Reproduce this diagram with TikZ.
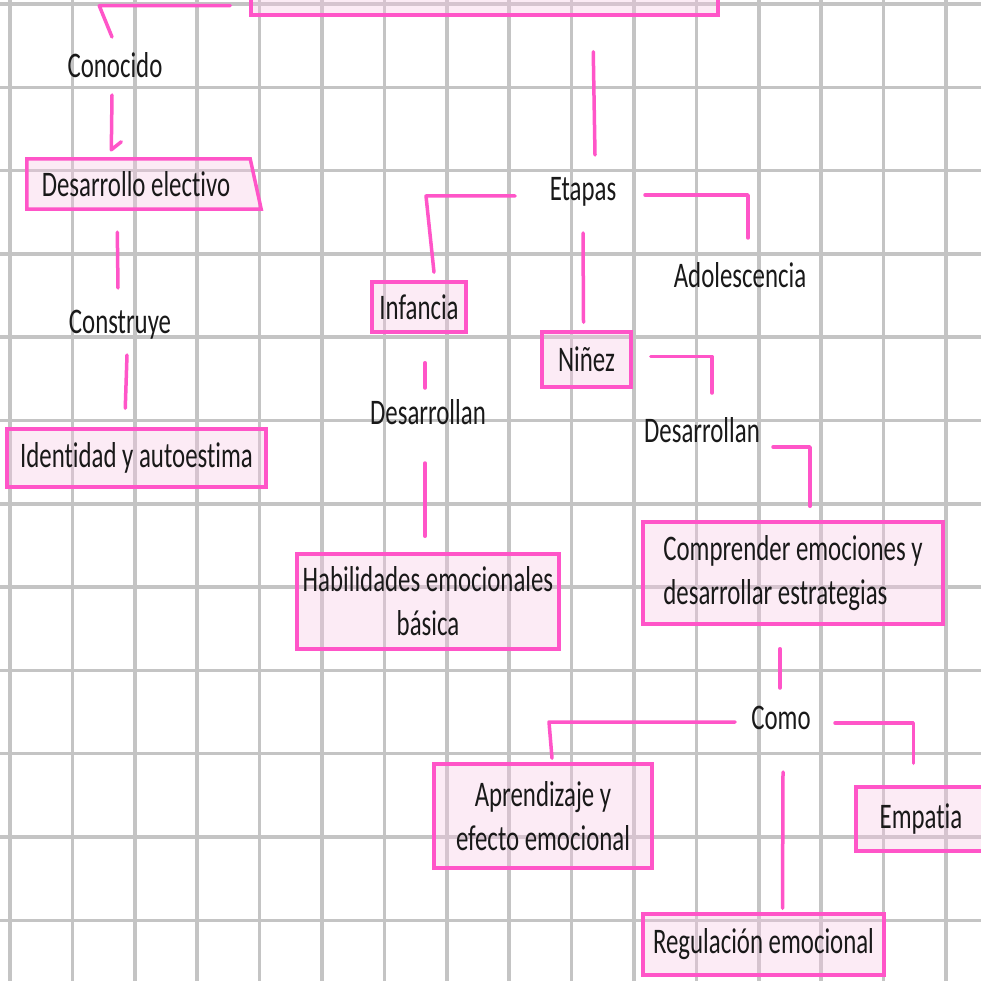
\documentclass[tikz,border=0pt]{standalone}
\usepackage{fontspec}
\setmainfont{Carlito}[FakeStretch=0.69, Ligatures=NoCommon]
\usetikzlibrary{calc,backgrounds}
\definecolor{rose}{RGB}{255,85,200}
\definecolor{blush}{RGB}{249,198,229}
\definecolor{ruled}{RGB}{196,196,196}

\begin{document}
\begin{tikzpicture}[x=1pt, y=-1pt, every node/.style={font=\fontsize{36}{44}\selectfont, text=black!90},
  box/.style={draw=rose, line width=3.5pt, fill=blush, fill opacity=0.35, text opacity=1, inner sep=0pt},
  link/.style={draw=rose, line width=3.5pt, line cap=round, line join=round},
  ruling/.style={draw=ruled, line width=3.5pt}]
\useasboundingbox (0,0) rectangle (981,981);
\begin{pgfonlayer}{background}
\fill[white] (0,0) rectangle (981,981);
\foreach \i in {0,...,15} \draw[ruling] (10+62.4*\i,0) -- (10+62.4*\i,981);
\foreach \j in {0,...,11} \draw[ruling] (0,4+83.3*\j) -- (981,4+83.3*\j);
\end{pgfonlayer}
\clip (0,0) rectangle (981,981);
\node[box, minimum width=467, minimum height=60] (top) at (484.5,-15) {};
\node[minimum width=223, minimum height=50] (desel) at (136,184) {Desarrollo electivo};
\begin{pgfonlayer}{background}
\draw[box] ($(desel.north west)+(2.5,0)$) -- ($(desel.north east)+(2.5,0)$) -- ($(desel.south east)+(13.5,0)$) -- ($(desel.south west)+(2.5,0)$) -- cycle;
\end{pgfonlayer}
\node[box, minimum width=259, minimum height=58] (ident) at (136.5,458) {Identidad y autoestima};
\node[box, minimum width=94, minimum height=50] (infancia) at (419,307) {Infancia};
\node[box, minimum width=89, minimum height=55] (ninez) at (586.5,359.5) {Niñez};
\node[box, minimum width=262, minimum height=95, align=center] (habil) at (428,601.5) {Habilidades emocionales\\básica};
\node[box, minimum width=300, minimum height=102, align=left] (compr) at (793,573) {Comprender emociones y\\desarrollar estrategias};
\node[box, minimum width=218, minimum height=104, align=center] (aprend) at (543,816) {Aprendizaje y\\efecto emocional};
\node[box, minimum width=130, minimum height=64] (empatia) at (921,819) {Empatia};
\node[box, minimum width=241, minimum height=61] (regul) at (763.5,944.5) {Regulación emocional};
\node (conocido) at (115,65) {Conocido};
\node (construye) at (120,325) {Construye};
\node (etapas) at (583,192) {Etapas};
\node (adolesc) at (740,275) {Adolescencia};
\node (desarr1) at (428,412) {Desarrollan};
\node (desarr2) at (702,430) {Desarrollan};
\node (como) at (781,718) {Como};
\draw[link] ($(top.south west)+(-19,-11)$) -- ++(-131,0) -- ($(conocido)+(-3,-28)$);
\draw[link] ($(conocido)+(-3,30)$) -- ($(desel.north west)+(87,-9)$) -- ++(10,-8);
\draw[link] ($(desel.south west)+(93,23)$) -- ($(construye)+(-2,-37)$);
\draw[link] ($(construye)+(7,30)$) -- ($(ident.north west)+(120,-19)$);
\draw[link] ($(top.south west)+(344,35)$) -- ($(etapas)+(12,-37)$);
\draw[link] ($(etapas)+(-68,4)$) -- ++(-89,0) -- ($(infancia.north)+(15,-8)$);
\draw[link] ($(etapas)+(0,41)$) -- ($(ninez.north)+(-3,-8)$);
\draw[link] ($(etapas)+(62,3)$) -| ($(adolesc)+(8,-37)$);
\draw[link] ($(infancia.south)+(6,29)$) -- ($(desarr1)+(-3,-24)$);
\draw[link] ($(desarr1)+(-3,51)$) -- ($(habil.north)+(-3,-16)$);
\draw[link] ($(ninez.east)+(18,-3)$) -| ($(desarr2)+(10,-37)$);
\draw[link] ($(desarr2)+(71,17)$) -| ($(compr.north)+(17,-14)$);
\draw[link] ($(compr.south)+(-13,23)$) -- ($(como)+(-1,-30)$);
\draw[link] ($(como)+(-46,4)$) -- ++(-186,0) -- ($(aprend.north)+(9,-4)$);
\draw[link] ($(como)+(54,5)$) -| ($(empatia.north west)+(59,-22)$);
\draw[link] ($(como)+(2,54)$) -- ($(regul.north)+(19,-4)$);
\end{tikzpicture}
\end{document}
